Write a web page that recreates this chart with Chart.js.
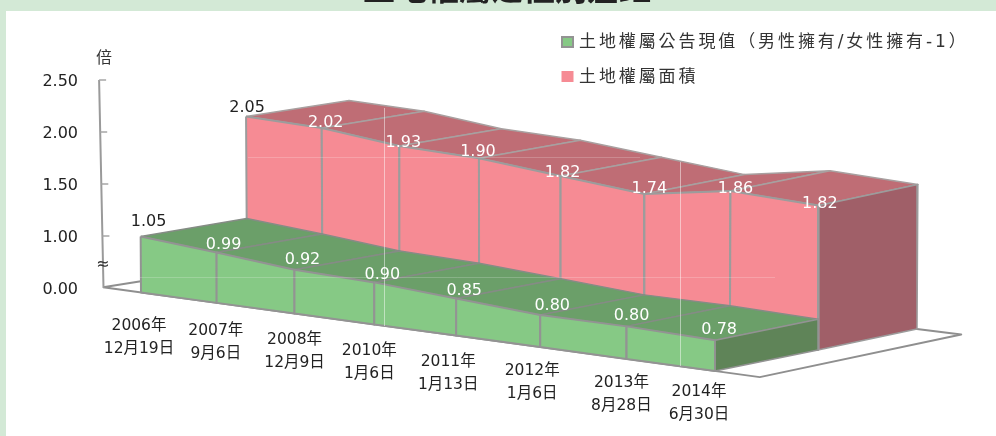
<!DOCTYPE html>
<html>
<head>
<meta charset="utf-8">
<script src="https://cdn.jsdelivr.net/npm/chart.js@4"></script>
<style>
body { margin: 0; background: #d3e9d6; overflow: hidden; }
#panel { position: absolute; left: 6px; top: 11px; right: 0; bottom: 0; background: #fff; }
#canvas1 { position: absolute; left: 0; top: 0; }
</style>
</head>
<body>
<div id="panel"></div>
<canvas id="canvas1" width="996" height="436"></canvas>
<script>
const chartTitle = '土地權屬之性別差距';
const seriesNames = ['土地權屬公告現值（男性擁有/女性擁有-1）', '土地權屬面積'];
const dateLabels = [
    ['2006年', '12月19日'], ['2007年', '9月6日'], ['2008年', '12月9日'], ['2010年', '1月6日'],
    ['2011年', '1月13日'], ['2012年', '1月6日'], ['2013年', '8月28日'], ['2014年', '6月30日']
];
const valueGreen = [1.05, 0.99, 0.92, 0.90, 0.85, 0.80, 0.80, 0.78];
const valuePink = [2.05, 2.02, 1.93, 1.90, 1.82, 1.74, 1.86, 1.82];
// the axis is broken: 0.5 sits on the floor and is labelled 0.00
const tickValues = [0.5, 1, 1.5, 2, 2.5];

// label nudges in pixels
const greenNudge = [[8, -15], [7, -8], [8, -10], [8, -8], [8, -8], [12, -9], [5, -11], [4, -10]];
const pinkNudge = [[1, -9], [4, -5], [4, -3], [-1, -6], [2, -3], [5, -5], [5, -2], [1, -2]];
const dateNudge = [[-2, 33], [-1, 28], [0, 26], [-5, 27], [-8, 26], [-8, 24], [-5, 24], [-16, 21]];

const FLOOR_Y = 288, UNIT_Y = 104;

// spacing of the categories grows towards the viewer
function along(i) {
    let s = i / 7;
    return s / (s + 1.095 * (1 - s));
}

// rails of the floor at depth 0, 1, 2, left and right end
const railLeft = [[141, 292.5], [247, 274.6], [350, 258.6]];
const railRight = [[715, 371], [818, 350], [917, 329]];

function fromPixelY(y) {
    return 0.5 + (FLOOR_Y - y) / UNIT_Y;
}

function project(t, depth, value) {
    let l = railLeft[depth], r = railRight[depth];
    let height = (value - 0.5) * (102 + 7.5 * t);
    let x = l[0] + (r[0] - l[0]) * t + height * (-0.006 + 0.012 * t);
    let y = l[1] + (r[1] - l[1]) * t - height;
    // y goes back into axis units so the y scale places it
    return { x: x, y: fromPixelY(y) };
}

let datasets = [];

function addShape(points, fill, line, width) {
    datasets.push({
        data: points,
        fill: fill ? 'shape' : false,
        backgroundColor: fill || 'transparent',
        borderColor: line,
        borderWidth: width,
        borderJoinStyle: 'round',
        pointRadius: 0,
        tension: 0,
        clip: false
    });
}

function addBlock(values, front, back, colors) {
    // top and front, one strip per category gap
    for (let i = 0; i < 7; i++) {
        let a = along(i), b = along(i + 1);
        addShape([
            project(a, front, values[i]), project(a, back, values[i]),
            project(b, back, values[i + 1]), project(b, front, values[i + 1]),
            project(a, front, values[i])
        ], colors.top, colors.topLine, 1.5);
    }
    for (let i = 0; i < 7; i++) {
        let a = along(i), b = along(i + 1);
        addShape([
            project(a, front, values[i]), project(b, front, values[i + 1]),
            project(b, front, 0.5), project(a, front, 0.5),
            project(a, front, values[i])
        ], colors.front, colors.frontLine, 2);
    }
    // right hand end
    addShape([
        project(1, front, values[7]), project(1, back, values[7]),
        project(1, back, 0.5), project(1, front, 0.5),
        project(1, front, values[7])
    ], colors.side, colors.frontLine, 1.5);
}

// floor
addShape([
    project(-0.066, 0, 0.5), project(1.078, 0, 0.5), project(1.078, 2, 0.5),
    project(-0.066, 2, 0.5), project(-0.066, 0, 0.5)
], '#ffffff', '#8f8f8f', 2);

addBlock(valuePink, 1, 2, { top: '#bf6d75', topLine: '#a8a0a0', front: '#f68b94', frontLine: '#9c9c9c', side: '#a05f68' });
addBlock(valueGreen, 0, 1, { top: '#6b9f69', topLine: '#858c85', front: '#86c985', frontLine: '#939393', side: '#5f8458' });

// y axis line and its ticks, leaning a little like the floor
function axisX(v) {
    return 103.5 - (v - 0.5) * 2.2;
}
addShape(tickValues.map(v => ({ x: axisX(v), y: v })), null, '#9a9a9a', 2);
tickValues.slice(1).forEach(v => {
    addShape([{ x: axisX(v), y: v }, { x: axisX(v) + 7, y: v }], null, '#a6a6a6', 1.5);
});

// thin pale lines that run over the whole drawing
const PALE = 'rgba(255,255,255,0.2)';
addShape([{ x: 140, y: fromPixelY(277.5) }, { x: 775, y: fromPixelY(277.5) }], null, PALE, 1);
addShape([{ x: 248, y: fromPixelY(157.5) }, { x: 640, y: fromPixelY(157.5) }], null, PALE, 1);
addShape([{ x: 384.5, y: fromPixelY(108) }, { x: 384.5, y: fromPixelY(326) }], null, PALE, 1);
addShape([{ x: 680.5, y: fromPixelY(162) }, { x: 680.5, y: fromPixelY(366) }], null, PALE, 1);

// later sets paint on top
datasets.forEach((d, k) => { d.order = datasets.length - k; });

const FONT = '"DejaVu Sans", "Noto Sans CJK TC", sans-serif';

const textPlugin = {
    id: 'textPlugin',
    afterDraw(chart) {
        const ctx = chart.ctx;
        const sx = chart.scales.x, sy = chart.scales.y;
        ctx.save();
        ctx.textAlign = 'center';
        ctx.textBaseline = 'middle';

        ctx.font = 'bold 32px ' + FONT;
        ctx.fillStyle = '#222';
        ctx.fillText(chartTitle, 507, -8);

        ctx.font = '16px ' + FONT;
        ctx.fillStyle = '#333';
        ctx.fillText('倍', 104, 59);
        ctx.fillText('≈', 103, 265);

        function valueLabels(values, depth, nudge) {
            values.forEach((v, i) => {
                let p = project(along(i), depth, v);
                ctx.fillStyle = i === 0 ? '#222' : '#fff';
                ctx.fillText(v.toFixed(2), sx.getPixelForValue(p.x) + nudge[i][0], sy.getPixelForValue(p.y) + nudge[i][1]);
            });
        }
        ctx.font = '16px ' + FONT;
        valueLabels(valuePink, 1, pinkNudge);
        valueLabels(valueGreen, 0, greenNudge);

        ctx.font = '15.5px ' + FONT;
        ctx.fillStyle = '#222';
        dateLabels.forEach((lines, i) => {
            let p = project(along(i), 0, 0.5);
            let px = sx.getPixelForValue(p.x) + dateNudge[i][0];
            let py = sy.getPixelForValue(p.y) + dateNudge[i][1];
            ctx.fillText(lines[0], px, py);
            ctx.fillText(lines[1], px, py + 23);
        });

        // legend
        ctx.fillStyle = '#86c985';
        ctx.strokeStyle = '#939393';
        ctx.lineWidth = 2;
        ctx.fillRect(562, 37, 11, 10);
        ctx.strokeRect(562, 37, 11, 10);
        ctx.fillStyle = '#f68b94';
        ctx.fillRect(561.5, 71, 12, 11);
        ctx.textAlign = 'left';
        ctx.font = '17px ' + FONT;
        ctx.letterSpacing = '2.9px';
        ctx.fillStyle = '#333';
        ctx.fillText(seriesNames[0], 579, 43);
        ctx.fillText(seriesNames[1], 579, 78);
        ctx.restore();
    }
};

new Chart(document.getElementById('canvas1'), {
    type: 'line',
    data: { datasets: datasets },
    options: {
        responsive: false,
        animation: false,
        parsing: false,
        events: [],
        layout: { autoPadding: false },
        plugins: {
            legend: { display: false },
            tooltip: { enabled: false }
        },
        scales: {
            x: { type: 'linear', display: false, min: 100, max: 996 },
            y: {
                type: 'linear',
                position: 'left',
                // whole canvas height, in axis units
                min: fromPixelY(436),
                max: fromPixelY(0),
                afterBuildTicks(axis) { axis.ticks = tickValues.map(v => ({ value: v })); },
                afterFit(axis) {
                    axis.width = 100;
                    axis.paddingTop = 0;
                    axis.paddingBottom = 0;
                },
                grid: { display: false, drawTicks: false },
                border: { display: false },
                ticks: {
                    padding: 22,
                    labelOffset: 1.5,
                    color: '#222',
                    font: { family: FONT, size: 16 },
                    callback: v => (v === 0.5 ? 0 : v).toFixed(2)
                }
            }
        }
    },
    plugins: [textPlugin]
});
</script>
</body>
</html>
